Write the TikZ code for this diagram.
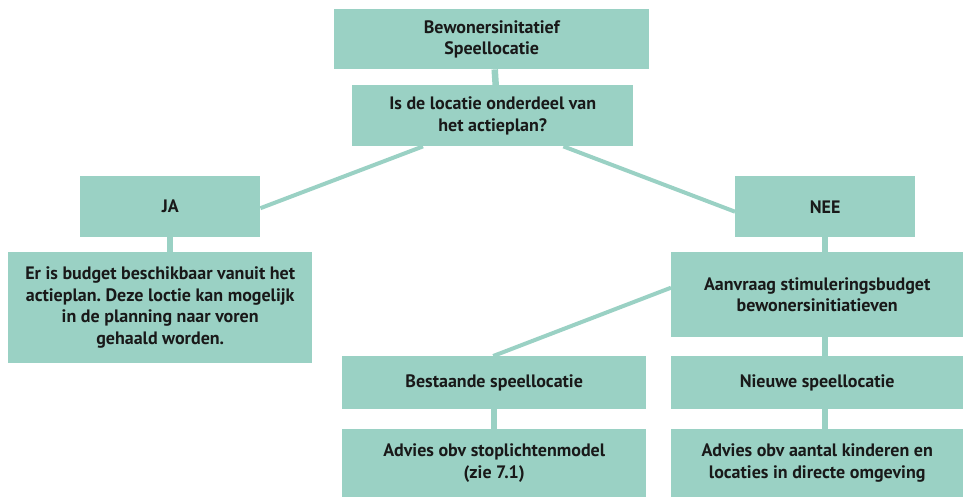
\documentclass[tikz,border=0pt]{standalone}
\usepackage{fontspec}
\setmainfont{PT Sans}
\frenchspacing
\usetikzlibrary{calc,backgrounds}
\definecolor{tealbox}{HTML}{9AD1C4}
\tikzset{
  box/.style={fill=tealbox, draw=none, anchor=north west, inner sep=0pt,
    align=center, font=\fontsize{18}{21.5}\selectfont\bfseries, text=black!90},
  vlink/.style={draw=tealbox, line width=6.5pt},
  dlink/.style={draw=tealbox, line width=4pt},
}
\begin{document}
\begin{tikzpicture}[x=1pt,y=-1pt]
\useasboundingbox (0,0) rectangle (963,497);
\node[box, minimum width=315pt, minimum height=60pt] (top) at (334,9) {Bewonersinitatief\\Speellocatie};
\node[box, minimum width=281pt, minimum height=61pt] (q) at (352,85) {Is de locatie onderdeel van\\het actieplan?};
\node[box, minimum width=180pt, minimum height=61pt] (ja) at (80,176) {JA};
\node[box, minimum width=304pt, minimum height=111pt] (er) at (8,252) {Er is budget beschikbaar vanuit het\\actieplan. Deze loctie kan mogelijk\\in de planning naar voren\\gehaald worden.};
\node[box, minimum width=180pt, minimum height=61pt] (nee) at (735,176) {NEE};
\node[box, minimum width=292pt, minimum height=85pt] (aan) at (671,252) {Aanvraag stimuleringsbudget\\bewonersinitiatieven};
\node[box, minimum width=304pt, minimum height=53pt] (best) at (342,356) {Bestaande speellocatie};
\node[box, minimum width=304pt, minimum height=68pt] (adv1) at (342,429) {Advies obv stoplichtenmodel\\(zie 7.1)};
\node[box, minimum width=292pt, minimum height=53pt] (nieuw) at (671,356) {Nieuwe speellocatie};
\node[box, minimum width=292pt, minimum height=68pt] (adv2) at (671,429) {Advies obv aantal kinderen en\\locaties in directe omgeving};
\begin{scope}[on background layer]
  \draw[vlink] ($(top.south)+(3,0)$) -- ($(q.north)+(3,0)$);
  \draw[vlink] (ja.south) -- (ja.south |- er.north);
  \draw[vlink] (nee.south) -- (nee.south |- aan.north);
  \draw[vlink] (nee.south |- aan.south) -- (nee.south |- nieuw.north);
  \draw[vlink] (best.south) -- (best.south |- adv1.north);
  \draw[vlink] (nee.south |- nieuw.south) -- (nee.south |- adv2.north);
  \draw[dlink] ($(q.south west)+(71,0)$) -- ($(ja.east)+(0,1.5)$);
  \draw[dlink] ($(q.south east)+(-70,0)$) -- ($(nee.west)+(0,5)$);
  \draw[dlink] ($(aan.west)+(0,-7)$) -- ($(best.north)+(-1,0)$);
\end{scope}
\end{tikzpicture}
\end{document}
